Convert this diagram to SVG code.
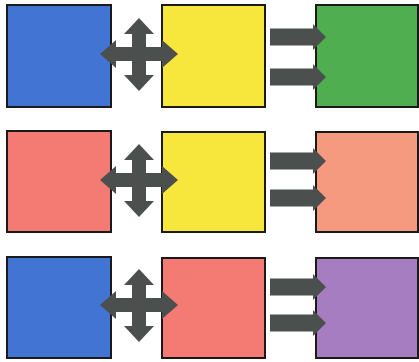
<svg xmlns="http://www.w3.org/2000/svg" width="419" height="362" viewBox="0 0 419 362">
<defs>
<style>
.box{stroke:#1a1a1a;stroke-width:2}
.blue{fill:#4274d4}
.yellow{fill:#f7e63c}
.green{fill:#4fae4f}
.pink{fill:#f47b74}
.salmon{fill:#f59a7e}
.purple{fill:#a57dc0}
.arr{fill:#4b4f4d}
</style>
<path id="cross" d="M-39,0 L-23,-14 L-23,-7 L-7,-7 L-7,-20 L-15,-20 L0,-36 L15,-20 L7,-20 L7,-7 L23,-7 L23,-14 L39,0 L23,14 L23,7 L7,7 L7,21 L15,21 L0,37 L-15,21 L-7,21 L-7,7 L-23,7 L-23,14 Z"/>
<path id="fwd" d="M0,-8.5 L43,-8.5 L43,-13 L56,0 L43,13 L43,8.5 L0,8.5 Z"/>
</defs>
<rect width="419" height="362" fill="#ffffff"/>
<g id="row1-blue"><rect class="box blue" x="7" y="5" width="104" height="102"/></g>
<g id="row1-yellow"><rect class="box yellow" x="162" y="5" width="103" height="102"/></g>
<g id="row1-green"><rect class="box green" x="316" y="5" width="102" height="102"/></g>
<g id="row2-pink"><rect class="box pink" x="7" y="131" width="104" height="101"/></g>
<g id="row2-yellow"><rect class="box yellow" x="162" y="132" width="103" height="100"/></g>
<g id="row2-salmon"><rect class="box salmon" x="316" y="132" width="102" height="100"/></g>
<g id="row3-blue"><rect class="box blue" x="7" y="257" width="104" height="101"/></g>
<g id="row3-pink"><rect class="box pink" x="162" y="258" width="103" height="100"/></g>
<g id="row3-purple"><rect class="box purple" x="316" y="258" width="102" height="100"/></g>
<g id="connectors" class="arr">
<use href="#cross" x="139" y="54"/>
<use href="#cross" x="139" y="180"/>
<use href="#cross" x="139" y="305"/>
<use href="#fwd" x="270" y="37"/>
<use href="#fwd" x="270" y="77"/>
<use href="#fwd" x="270" y="161"/>
<use href="#fwd" x="270" y="198"/>
<use href="#fwd" x="270" y="287"/>
<use href="#fwd" x="270" y="323"/>
</g>
</svg>
